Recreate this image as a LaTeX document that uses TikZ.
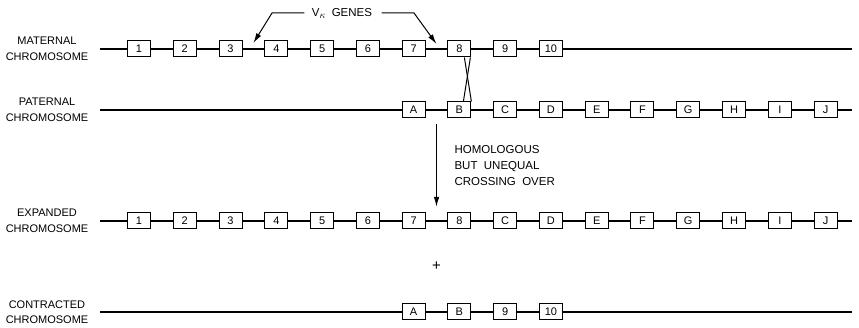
\documentclass[tikz,border=0pt]{standalone}
\usepackage{amsmath}
\usepackage{fontspec}
\setmainfont{Liberation Sans}
\usepackage{tikz}
\usetikzlibrary{arrows.meta,positioning,calc}
\tikzset{>={Latex[length=10pt,width=5.5pt]}}
\tikzset{
    gene/.style={draw, fill=white, line width=1pt, minimum width=23pt, minimum height=16pt, inner sep=0pt, font=\fontsize{11}{12}\selectfont},
    strand/.style={line width=1.3pt},
    rowlabel/.style={align=center, font=\fontsize{11}{15.5}\selectfont},
    note/.style={align=left, font=\fontsize{11.5}{16}\selectfont},
}

\begin{document}
\begin{tikzpicture}[x=1pt, y=-1pt]
    \useasboundingbox (0,0) rectangle (859,328);

    % chromosome backbones
    \foreach \r/\y in {mat/49, pat/110, exp/221, con/312} {
        \coordinate (\r-l) at (100,\y);
        \coordinate (\r-r) at (852,\y);
        \draw[strand] (\r-l) -- (\r-r);
    }

    % gene boxes, one slot every 45.77pt
    \foreach \g [count=\i] in {1,...,10}
        \node[gene] (m\i) at ({139+45.77*(\i-1)},49) {\g};
    \foreach \g [count=\i from 7] in {A,B,C,D,E,F,G,H,I,J}
        \node[gene] (p\i) at ({139+45.77*(\i-1)},110) {\g};
    \foreach \g [count=\i] in {1,...,8,C,D,E,F,G,H,I,J}
        \node[gene] (e\i) at ({139+45.77*(\i-1)},221) {\g};
    \foreach \g [count=\i from 7] in {A,B,9,10}
        \node[gene] (c\i) at ({139+45.77*(\i-1)},312) {\g};

    % row labels
    \node[rowlabel] (matlab) at (47,49) {MATERNAL\\CHROMOSOME};
    \node[rowlabel] (patlab) at (47,110) {PATERNAL\\CHROMOSOME};
    \node[rowlabel] (explab) at (47,221) {EXPANDED\\CHROMOSOME};
    \node[rowlabel] (conlab) at (47,312) {CONTRACTED\\CHROMOSOME};

    % crossing between 8 and B
    \draw[line width=1pt] ($(m8.south east)+(-7,0)$) -- ($(p8.north east)+(0,0)$);
    \draw[line width=1pt] ($(m8.south east)+(-1,0)$) -- ($(p8.north east)+(-8,0)$);

    % V kappa genes pointer
    \node[font=\fontsize{11.5}{12}\selectfont] (vk) at (342,13)
        {V\raisebox{-2pt}{\fontsize{10}{10}\selectfont$\kappa$}\ \ GENES};
    \coordinate (vkl) at (272,13);
    \coordinate (vkr) at (414,13);
    \coordinate (gap34) at ($(m3)!0.5!(m4)+(0,-6)$);
    \coordinate (gap78) at ($(m7)!0.5!(m8)+(0,-5)$);
    \draw[line width=1pt, ->] ($(vk.west)+(-4,0)$) -- (vkl) -- (gap34);
    \draw[line width=1pt, ->] ($(vk.east)+(6,0)$) -- (vkr) -- (gap78);

    % recombination step
    \coordinate (xtop) at ($(p7)!0.5!(p8)+(0,14)$);
    \coordinate (xbot) at ($(e7)!0.5!(e8)+(0,-14)$);
    \draw[line width=1.2pt, ->] (xtop) -- (xbot);
    \node[note, anchor=west] (hbu) at (451,166) {HOMOLOGOUS\\BUT\ \ UNEQUAL\\CROSSING\ \ OVER};

    \node[font=\fontsize{15}{15}\selectfont] (plus) at ($(e7)!0.5!(e8)+(0,45)$) {+};
\end{tikzpicture}
\end{document}
